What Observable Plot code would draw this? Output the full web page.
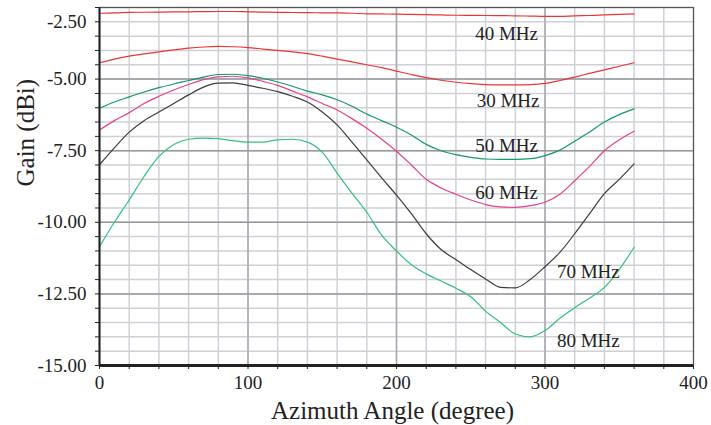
<!DOCTYPE html>
<html>
<head>
<meta charset="utf-8">
<script src="https://cdn.jsdelivr.net/npm/d3@7"></script>
<script src="https://cdn.jsdelivr.net/npm/@observablehq/plot@0.6"></script>
<style>
  html, body { margin: 0; padding: 0; background: #ffffff; }
  #chart { width: 711px; height: 425px; }
</style>
</head>
<body>
<div id="chart"></div>
<script>
// ---- data ----
const angles = [0,10,20,30,40,50,60,70,80,90,100,110,120,130,140,150,160,170,180,190,200,210,220,230,240,250,260,270,280,290,300,310,320,330,340,350,360];

const gain40 = [-2.70,-2.69,-2.67,-2.665,-2.66,-2.655,-2.65,-2.645,-2.64,-2.64,-2.65,-2.66,-2.67,-2.675,-2.68,-2.685,-2.69,-2.70,-2.72,-2.725,-2.73,-2.74,-2.75,-2.76,-2.77,-2.775,-2.78,-2.785,-2.79,-2.80,-2.81,-2.81,-2.79,-2.78,-2.76,-2.74,-2.72];
const gain30 = [-4.43,-4.30,-4.20,-4.12,-4.05,-3.98,-3.92,-3.88,-3.86,-3.87,-3.90,-3.95,-4.00,-4.05,-4.11,-4.20,-4.30,-4.40,-4.50,-4.60,-4.72,-4.84,-4.95,-5.04,-5.11,-5.16,-5.19,-5.20,-5.20,-5.19,-5.15,-5.05,-4.93,-4.80,-4.68,-4.55,-4.43];
const gain50 = [-6.02,-5.80,-5.62,-5.45,-5.30,-5.17,-5.05,-4.93,-4.84,-4.83,-4.88,-4.97,-5.10,-5.25,-5.42,-5.55,-5.72,-5.95,-6.22,-6.45,-6.68,-6.95,-7.28,-7.50,-7.64,-7.73,-7.79,-7.80,-7.80,-7.78,-7.67,-7.48,-7.17,-6.85,-6.50,-6.24,-6.04];
const gain60 = [-6.78,-6.45,-6.17,-5.85,-5.60,-5.38,-5.19,-5.02,-4.92,-4.90,-4.96,-5.08,-5.22,-5.42,-5.62,-5.85,-6.08,-6.38,-6.72,-7.10,-7.52,-8.00,-8.50,-8.80,-9.02,-9.22,-9.38,-9.46,-9.48,-9.42,-9.30,-9.02,-8.55,-8.05,-7.50,-7.12,-6.82];
const gain70 = [-7.99,-7.40,-6.85,-6.45,-6.15,-5.85,-5.55,-5.28,-5.14,-5.13,-5.22,-5.32,-5.44,-5.60,-5.80,-6.15,-6.60,-7.20,-7.82,-8.45,-9.05,-9.70,-10.40,-10.95,-11.30,-11.65,-11.98,-12.27,-12.29,-12.00,-11.55,-11.05,-10.40,-9.70,-9.00,-8.50,-7.96];
const gain80 = [-10.85,-10.00,-9.22,-8.40,-7.70,-7.28,-7.10,-7.06,-7.08,-7.15,-7.20,-7.20,-7.12,-7.10,-7.20,-7.55,-8.28,-8.98,-9.65,-10.45,-11.00,-11.48,-11.80,-12.05,-12.30,-12.60,-13.10,-13.50,-13.90,-14.00,-13.78,-13.35,-12.98,-12.65,-12.27,-11.65,-10.87];

const seriesNames  = ["40 MHz", "30 MHz", "50 MHz", "60 MHz", "70 MHz", "80 MHz"];
const seriesValues = [gain40, gain30, gain50, gain60, gain70, gain80];
const seriesColors = ["#ec3535", "#ec3535", "#16976c", "#e3408f", "#3c3c3c", "#34c07c"];

// series label placement (data coordinates)
const labelX = [253, 254, 253, 253, 308, 308];
const labelY = [-3.41, -5.75, -7.32, -8.99, -11.72, -14.13];

// axis ticks
const xMajorTicks = [0, 100, 200, 300, 400];
const xMinorTicks = [0,20,40,60,80,100,120,140,160,180,200,220,240,260,280,300,320,340,360,380,400];
const yTickValues = [-15, -12.5, -10, -7.5, -5, -3];
const yTickLabels = ["-15.00", "-12.50", "-10.00", "-7.50", "-5.00", "-2.50"];
const yMajorGrid  = [-12.5, -10, -7.5, -5];
const yMinorTicks = [-15,-14.5,-14,-13.5,-13,-12.5,-12,-11.5,-11,-10.5,-10,-9.5,-9,-8.5,-8,-7.5,-7,-6.5,-6,-5.5,-5,-4.5,-4,-3.5,-3,-2.5];

const xTitle = "Azimuth Angle (degree)";
const yTitle = "Gain (dBi)";

// ---- build tables ----
const rows = [];
seriesNames.forEach((name, s) => {
  angles.forEach((a, i) => rows.push({series: name, angle: a, gain: seriesValues[s][i]}));
});
const labels = seriesNames.map((name, s) => ({text: name, x: labelX[s], y: labelY[s]}));
const yLabelOf = new Map(yTickValues.map((v, i) => [v, yTickLabels[i]]));

const font = "'Liberation Serif', 'Times New Roman', serif";

const chart = Plot.plot({
  width: 711,
  height: 425,
  marginLeft: 99,
  marginRight: 18,
  marginTop: 7,
  marginBottom: 60,
  style: {fontFamily: font, fontSize: "19px", color: "#222", background: "#ffffff"},
  x: {domain: [0, 400], axis: null},
  y: {domain: [-15, -2.5], axis: null},
  color: {domain: seriesNames, range: seriesColors},
  marks: [
    Plot.gridX(xMinorTicks, {stroke: "#cfd0d6", strokeOpacity: 1, strokeWidth: 1.5}),
    Plot.gridY(yMinorTicks, {stroke: "#cfd0d6", strokeOpacity: 1, strokeWidth: 1.5}),
    Plot.gridX([100, 200, 300], {stroke: "#a9aab0", strokeOpacity: 1, strokeWidth: 1.5}),
    Plot.gridY(yMajorGrid, {stroke: "#97989e", strokeOpacity: 1, strokeWidth: 1.5}),
    Plot.frame({stroke: "#555", strokeWidth: 1.2}),
    Plot.line(rows, {x: "angle", y: "gain", z: "series", stroke: "series", strokeWidth: 1.2, curve: "monotone-x"}),
    Plot.text(labels, {x: "x", y: "y", text: "text", textAnchor: "start", fill: "#222", fontSize: 19}),
    Plot.axisX({ticks: xMinorTicks, tickSize: 4, tickFormat: () => "", stroke: "#222"}),
    Plot.axisX({ticks: xMajorTicks, tickSize: 0, tickPadding: 10, tickFormat: d => String(d), fontSize: 19, fill: "#222", label: null}),
    Plot.axisY({ticks: yMinorTicks, tickSize: 4, tickFormat: () => "", stroke: "#222"}),
    Plot.axisY({ticks: yTickValues, tickSize: 0, tickPadding: 13, tickFormat: d => yLabelOf.get(d), fontSize: 19, fill: "#222", label: null}),
    Plot.ruleX([0], {stroke: "#222", strokeWidth: 2}),
    Plot.ruleY([-15], {stroke: "#222", strokeWidth: 3}),
    Plot.text([xTitle], {frameAnchor: "bottom", dy: 45, dx: -4, fontSize: 25, fill: "#222", lineAnchor: "middle"}),
    Plot.text([yTitle], {frameAnchor: "left", dx: -74, rotate: -90, fontSize: 25, fill: "#222", lineAnchor: "middle"})
  ]
});
document.getElementById("chart").appendChild(chart);
</script>
</body>
</html>
